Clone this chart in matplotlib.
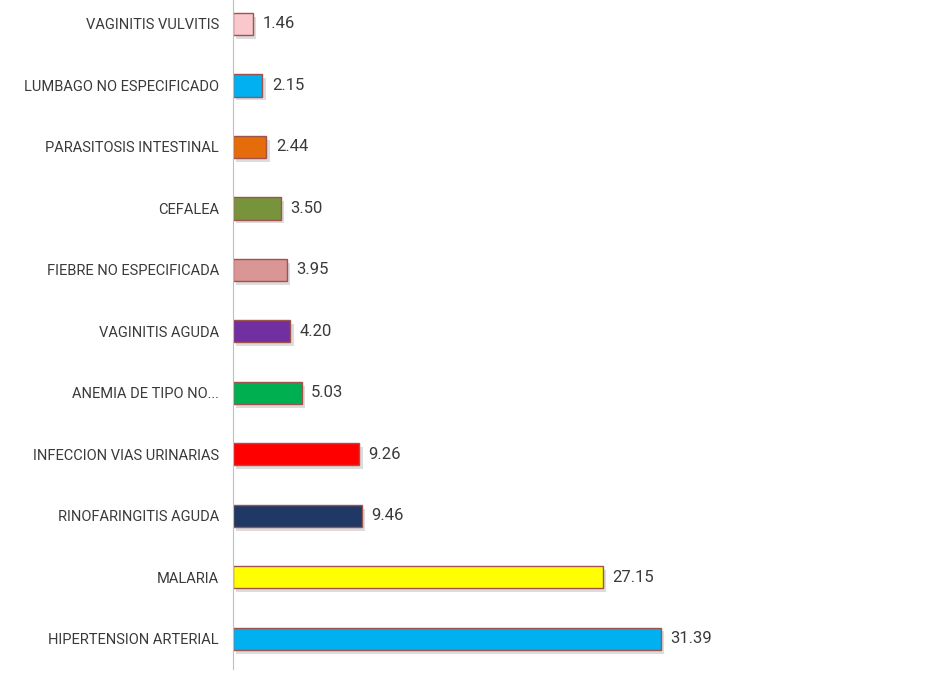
import matplotlib
matplotlib.use("Agg")
import matplotlib.pyplot as plt

categories = [
    "HIPERTENSION ARTERIAL",
    "MALARIA",
    "RINOFARINGITIS AGUDA",
    "INFECCION VIAS URINARIAS",
    "ANEMIA DE TIPO NO...",
    "VAGINITIS AGUDA",
    "FIEBRE NO ESPECIFICADA",
    "CEFALEA",
    "PARASITOSIS INTESTINAL",
    "LUMBAGO NO ESPECIFICADO",
    "VAGINITIS VULVITIS",
]
values = [31.39, 27.15, 9.46, 9.26, 5.03, 4.20, 3.95, 3.50, 2.44, 2.15, 1.46]
colors = [
    "#00B0F0", "#FFFF00", "#1F3864", "#FF0000", "#00B050", "#7030A0",
    "#D99694", "#77933C", "#E46C0A", "#00B0F0", "#F8C8CC",
]

plt.rcParams["font.family"] = ["Roboto", "DejaVu Sans"]

fig = plt.figure(figsize=(9.39, 6.78), dpi=100)
ax = fig.add_axes([233 / 939, 9 / 678, (710 - 233) / 939, 669 / 678])

y = list(range(len(categories)))
# soft shadow behind the bars
ax.barh([v - 0.06 for v in y], values, left=0.25, height=0.36,
        color="#bbbbbb", alpha=0.5, zorder=1)
ax.barh(y, values, height=0.36, color=colors, edgecolor="#A0524D",
        linewidth=1.0, zorder=2)

for yi, v in zip(y, values):
    ax.text(v + 0.7, yi, f"{v:.2f}", va="center", ha="left",
            fontsize=12, color="#3a3a3a")

ax.set_yticks(y)
ax.set_yticklabels(categories, fontsize=10.5, color="#3a3a3a")
ax.tick_params(axis="y", length=0, pad=10)
ax.set_xticks([])
ax.set_xlim(0, 35)
ax.set_ylim(-0.49, 10.39)

for side in ["top", "right", "bottom"]:
    ax.spines[side].set_visible(False)
ax.spines["left"].set_color("#BFBFBF")
ax.spines["left"].set_linewidth(0.8)

# shrink the labels so the widest one is as wide as in the original (~196 px)
fig.canvas.draw()
renderer = fig.canvas.get_renderer()
widest = max(t.get_window_extent(renderer).width for t in ax.get_yticklabels())
scale = 196 / widest
for t in ax.get_yticklabels():
    t.set_fontsize(10.5 * scale)

fig.savefig("out.png", dpi=100)
